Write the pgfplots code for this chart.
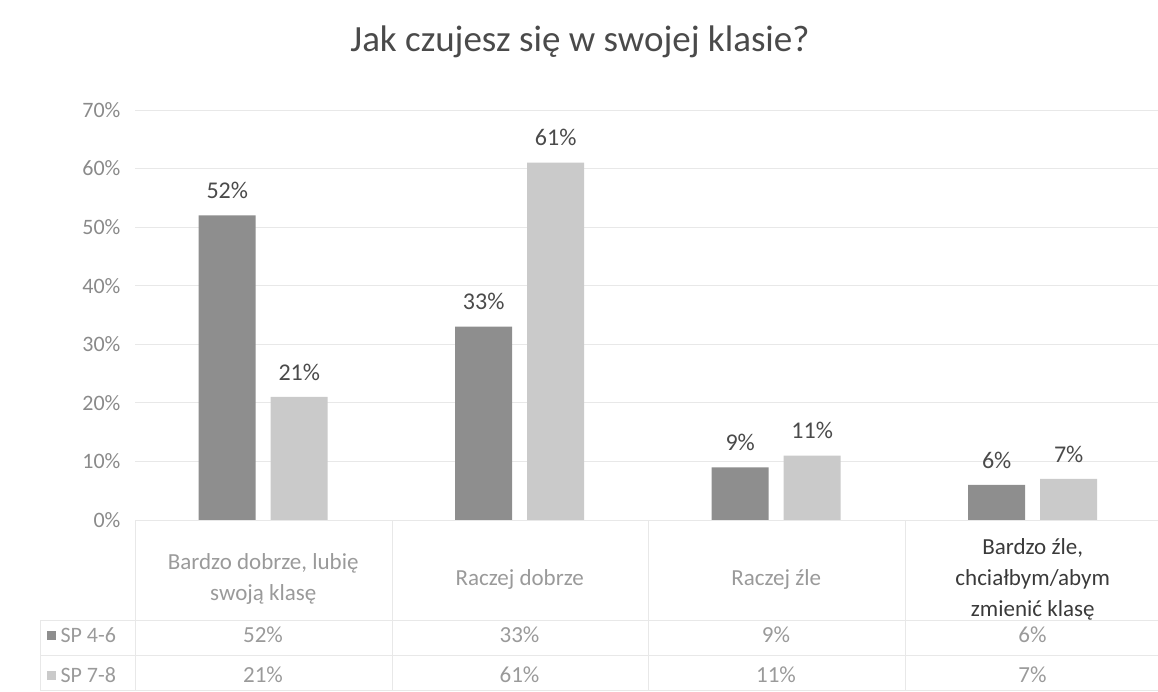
\documentclass[border=0pt]{standalone}
\usepackage{pgfplots}
\pgfplotsset{compat=1.18}
\usepackage{fontspec}
\setmainfont{Carlito}
\definecolor{barA}{HTML}{8E8E8E}
\definecolor{barB}{HTML}{CACACA}
\definecolor{txt}{HTML}{4A4A4A}
\definecolor{tickc}{HTML}{8A8A8A}
\definecolor{tbl}{HTML}{9A9A9A}
\definecolor{tbldark}{HTML}{3A3A3A}
\definecolor{gridc}{HTML}{E8E8E8}
\begin{document}
\begin{tikzpicture}[x=1pt,y=1pt]
\path[use as bounding box] (0,0) rectangle (1158,692);
\node[text=txt,font=\fontsize{37}{44}\selectfont] at (580,650) {Jak czujesz się w swojej klasie?};
\begin{axis}[
  at={(135pt,172pt)}, anchor=south west,
  scale only axis, width=1026pt, height=410pt,
  xmin=-0.5, xmax=3.5, ymin=0, ymax=70,
  ybar=15pt, bar width=57pt,
  xtick={0,1,2,3},
  xticklabels={{Bardzo dobrze, lubię\\swoją klasę},{Raczej dobrze},{Raczej źle},{\textcolor{tbldark}{Bardzo źle,}\\\textcolor{tbldark}{chciałbym/abym}\\\textcolor{tbldark}{zmienić klasę}}},
  ytick={0,10,...,70},
  yticklabel={\pgfmathprintnumber{\tick}\%},
  /pgf/number format/assume math mode=true,
  ymajorgrids, grid style={gridc, line width=0.8pt},
  axis line style={draw=none},
  major tick style={draw=none},
  clip=false,
  yticklabel style={font=\fontsize{22}{27}\selectfont, text=tickc, xshift=-11pt},
  xticklabel style={font=\fontsize{23}{31}\selectfont, text=tbl, align=center, anchor=center, yshift=-55pt},
  nodes near coords={\pgfmathprintnumber{\pgfplotspointmeta}\%},
  nodes near coords style={font=\fontsize{24}{29}\selectfont, text=txt, yshift=13pt},
]
\addplot[fill=barA, draw=none] coordinates {(0,52) (1,33) (2,9) (3,6)};
\addplot[fill=barB, draw=none] coordinates {(0,21) (1,61) (2,11) (3,7)};
\end{axis}
% data table
\draw[gridc, line width=0.8pt] (135,172) -- (135,2);
\foreach \x in {392,648,905} \draw[gridc, line width=0.8pt] (\x,172) -- (\x,2);
\draw[gridc, line width=0.8pt] (40,72) -- (1158,72);
\draw[gridc, line width=0.8pt] (40,37) -- (1158,37);
\draw[gridc, line width=0.8pt] (40,2) -- (1158,2);
\draw[gridc, line width=0.8pt] (40,72) -- (40,2);
\fill[barA] (47,52) rectangle (56,61);
\fill[barB] (47,12) rectangle (56,21);
\node[anchor=west, text=tbl, font=\fontsize{22}{26}\selectfont] at (57,57) {SP 4-6};
\node[anchor=west, text=tbl, font=\fontsize{22}{26}\selectfont] at (57,17) {SP 7-8};
\begin{scope}[every node/.style={text=tbl, font=\fontsize{23}{27}\selectfont}]
\node at (263,57) {52\%};
\node at (519.5,57) {33\%};
\node at (776,57) {9\%};
\node at (1032.5,57) {6\%};
\node at (263,17) {21\%};
\node at (519.5,17) {61\%};
\node at (776,17) {11\%};
\node at (1032.5,17) {7\%};
\end{scope}
\end{tikzpicture}
\end{document}
